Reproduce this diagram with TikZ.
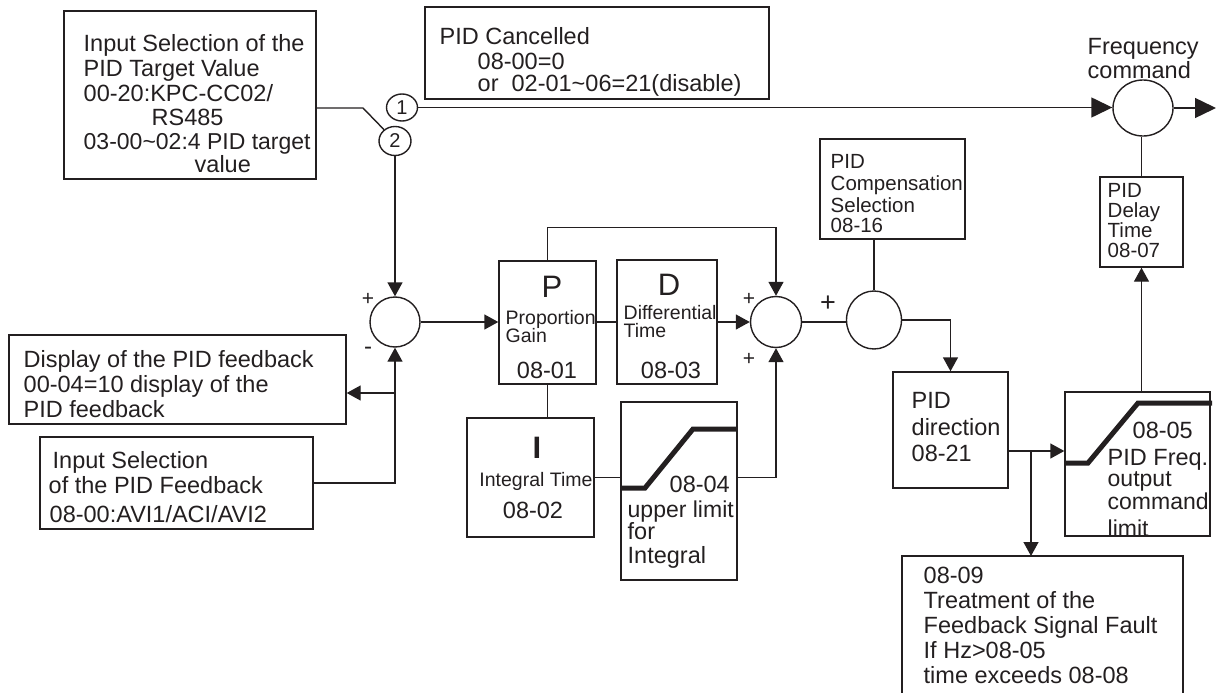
\documentclass[tikz,border=0pt]{standalone}
\usepackage{fontspec}
\setmainfont{Liberation Sans}
\usetikzlibrary{arrows.meta,shapes.geometric}
\definecolor{ink}{RGB}{35,31,32}
\newcommand\txtline[5][]{\node[txt,anchor=base west,#1] (#2) at (#3,#4) {#5};}
\newcommand\ctrline[5][]{\node[txt,anchor=base,#1] (#2) at (#3,#4) {#5};}
\begin{document}
\begin{tikzpicture}[x=1pt,y=-1pt,line width=1.4pt,color=ink,
  txt/.style={font=\fontsize{23.5}{25}\selectfont,inner sep=0pt,text=ink},
  nar/.style={font=\fontsize{23}{25}\selectfont},
  sm/.style={font=\fontsize{19.5}{21}\selectfont},
  md/.style={font=\fontsize{20.5}{22}\selectfont},
  big/.style={font=\fontsize{31}{33}\selectfont},
  box/.style={draw,rectangle,inner sep=0pt},
  sumc/.style={draw,circle,inner sep=0pt},
  ell/.style={draw,ellipse,inner sep=0pt},
  arr/.style={-{Triangle[length=14pt,width=15pt]}},
  bigarr/.style={-{Triangle[length=21pt,width=20pt]}},
  limline/.style={line width=5pt}]
\useasboundingbox (0,0) rectangle (1219,693);

% ---------- boxes ----------
\node[box,minimum width=252pt,minimum height=168pt] (tgt) at (190,95) {};
\node[box,minimum width=344pt,minimum height=92pt] (cancel) at (597,53) {};
\node[box,minimum width=145pt,minimum height=100pt] (comp) at (892.5,189) {};
\node[box,minimum width=83pt,minimum height=90pt] (delay) at (1141.5,222) {};
\node[box,minimum width=97pt,minimum height=123pt] (pbox) at (547.5,322.5) {};
\node[box,minimum width=100pt,minimum height=124pt] (dbox) at (667,322) {};
\node[box,minimum width=127pt,minimum height=119pt] (ibox) at (530.5,477.5) {};
\node[box,minimum width=116pt,minimum height=178pt] (lim1) at (679,491) {};
\node[box,minimum width=115pt,minimum height=116pt] (dir) at (950.5,430) {};
\node[box,minimum width=145pt,minimum height=144pt] (lim2) at (1137.5,464) {};
\node[box,minimum width=337pt,minimum height=89pt] (disp) at (177.5,379.5) {};
\node[box,minimum width=273pt,minimum height=92pt] (fb) at (176.5,483) {};
\draw (902,700) -- (902,556) -- (1183,556) -- (1183,700);
\coordinate (fault) at (1031,556);

% ---------- circles ----------
\node[ell,minimum width=31pt,minimum height=27pt,txt,font=\fontsize{20}{20}\selectfont] (c1) at (402,107.5) {1};
\node[ell,minimum width=32pt,minimum height=29pt,txt,font=\fontsize{20}{20}\selectfont] (c2) at (395,141) {2};
\node[ell,minimum width=60pt,minimum height=56pt] (freq) at (1143,108) {};
\node[sumc,minimum size=50pt] (sum1) at (395,322) {};
\node[sumc,minimum size=51pt] (sum2) at (776,322) {};
\node[ell,minimum width=55pt,minimum height=58pt] (compc) at (874,320) {};

% ---------- limiter curves ----------
\draw[limline] (621,488) -- (645,488) -- (693,429) -- (737,429);
\draw[limline] (1065,463) -- (1088,463) -- (1138,403) -- (1212,403);

% ---------- texts ----------
\txtline{t1}{83}{52}{Input Selection of the}
\txtline{t2}{83}{77}{PID Target Value}
\txtline{t3}{83}{102}{00-20:KPC-CC02/}
\txtline{t4}{151}{125}{RS485}
\txtline[nar]{t5}{83}{149}{03-00\textasciitilde 02:4 PID target}
\txtline{t6}{194}{172}{value}

\txtline{k1}{439}{45}{PID Cancelled}
\txtline{k2}{477}{70}{08-00=0}
\txtline{k3}{477}{92}{or\ \ 02-01\textasciitilde 06=21(disable)}

\txtline{f1}{1087}{55}{Frequency}
\txtline{f2}{1087}{78}{command}

\txtline[md]{cp1}{830}{168}{PID}
\txtline[md]{cp2}{830}{190}{Compensation}
\txtline[md]{cp3}{830}{212}{Selection}
\txtline[md]{cp4}{830}{232}{08-16}

\txtline[md]{dl1}{1107}{197}{PID}
\txtline[md]{dl2}{1107}{217}{Delay}
\txtline[md]{dl3}{1107}{237}{Time}
\txtline[md]{dl4}{1107}{257}{08-07}

\ctrline[big]{pl}{552}{297}{P}
\txtline[sm]{p1}{505}{324}{Proportion}
\txtline[sm]{p2}{505}{342}{Gain}
\ctrline{p3}{547}{378}{08-01}

\ctrline[big]{dlt}{669}{295}{D}
\txtline[sm]{d1}{623}{319}{Differential}
\txtline[sm]{d2}{623}{337}{Time}
\ctrline{d3}{671}{378}{08-03}

\ctrline[font=\fontsize{31}{33}\selectfont\bfseries]{il}{537}{458}{I}
\ctrline[sm]{i1}{536}{486}{Integral Time}
\ctrline{i2}{533}{518}{08-02}

\txtline{l1}{669}{492}{08-04}
\txtline[nar]{l2}{627}{517}{upper limit}
\txtline{l3}{627}{539}{for}
\txtline{l4}{627}{563}{Integral}

\txtline{r1}{911}{408}{PID}
\txtline{r2}{911}{435}{direction}
\txtline{r3}{911}{461}{08-21}

\txtline{o1}{1132}{438}{08-05}
\txtline{o2}{1107}{465}{PID Freq.}
\txtline[nar]{o3}{1107}{486}{output}
\txtline[nar]{o4}{1107}{509}{command}
\txtline[nar]{o5}{1107}{536}{limit}

\txtline{q1}{923}{583}{08-09}
\txtline{q2}{923}{608}{Treatment of the}
\txtline{q3}{923}{633}{Feedback Signal Fault}
\txtline{q4}{923}{658}{If Hz>08-05}
\txtline{q5}{923}{683}{time exceeds 08-08}

\txtline{s1}{23}{367}{Display of the PID feedback}
\txtline{s2}{23}{392}{00-04=10 display of the}
\txtline{s3}{23}{417}{PID feedback}

\txtline{b1}{52}{468}{Input Selection}
\txtline{b2}{48}{493}{of the PID Feedback}
\txtline{b3}{49}{522}{08-00:AVI1/ACI/AVI2}

% signs
\node[txt,font=\fontsize{21}{21}\selectfont] (sg1) at (368,299) {+};
\node[txt,font=\fontsize{24}{24}\selectfont] (sg2) at (368,351) {-};
\node[txt,font=\fontsize{21}{21}\selectfont] (sg3) at (749,299) {+};
\node[txt,font=\fontsize{21}{21}\selectfont] (sg4) at (749,359) {+};
\node[txt,font=\fontsize{27}{27}\selectfont] (sg5) at (828,304) {+};

% ---------- connectors ----------
\coordinate (sw) at (363,108);
\draw (tgt.east |- sw) -- (sw) -- (c2);
\draw[bigarr] (c1.east) -- (c1.east -| freq.west);
\coordinate (out) at (1216,108);
\draw[bigarr] (freq.east) -- (out);
\draw (delay.north) -- (delay.north |- freq.south);
\draw[arr] (c2.south) -- (sum1.north);
\draw[arr] (fb.east) -| (sum1.south);
\coordinate (db) at (395,393);
\draw[arr] (db) -- (db -| disp.east);
\draw[arr] (sum1.east) -- (sum1.east -| pbox.west);
\draw (pbox.east |- dbox.west) -- (dbox.west);
\draw[arr] (dbox.east) -- (dbox.east -| sum2.west);
\draw[arr] (pbox.north) -- ++(0,-33) -| (sum2.north);
\draw (pbox.south) -- (pbox.south |- ibox.north);
\draw (ibox.east) -- (ibox.east -| lim1.west);
\draw[arr] (ibox.east -| lim1.east) -| (sum2.south);
\draw (sum2.east) -- (sum2.east -| compc.west);
\draw (compc.north) -- (compc.north |- comp.south);
\draw[arr] (compc.east) -| (dir.north);
\coordinate (dirout) at (1008,451);
\coordinate (br) at (1031,451);
\draw[arr] (dirout) -- (dirout -| lim2.west);
\draw[arr] (br) -- (fault);
\draw[arr] (delay.south |- lim2.north) -- (delay.south);
\end{tikzpicture}
\end{document}
